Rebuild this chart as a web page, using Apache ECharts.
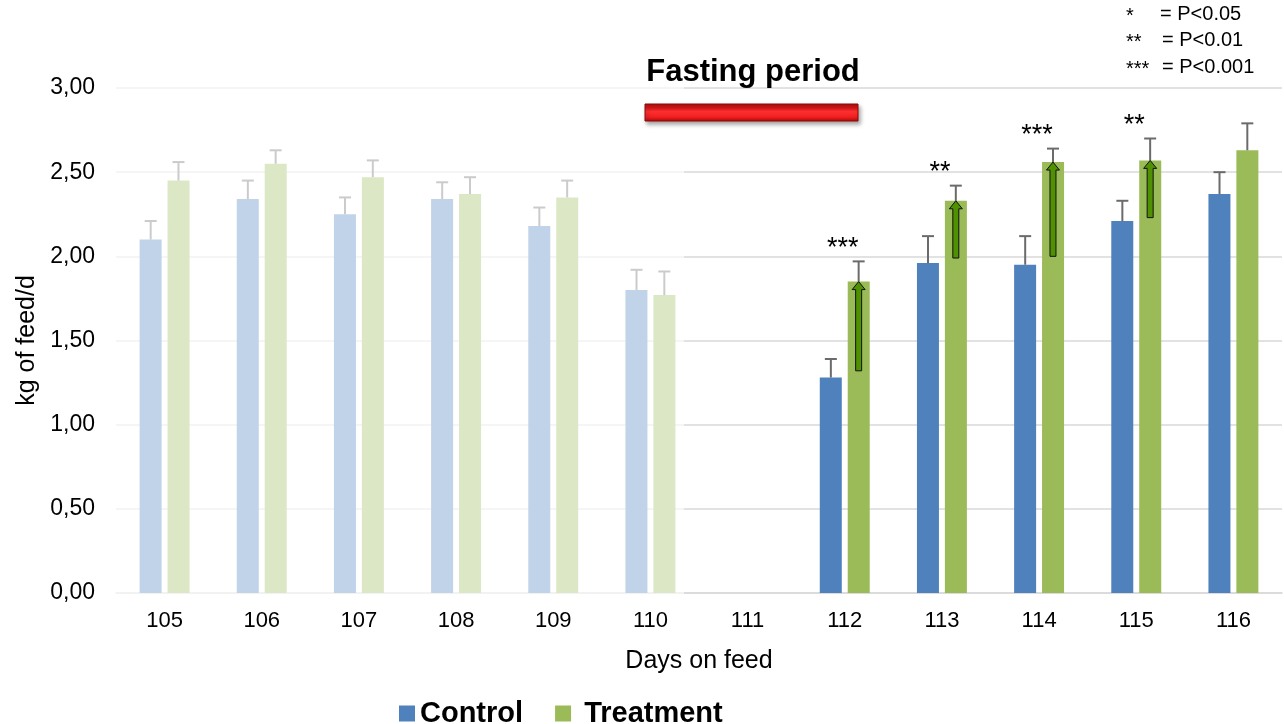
<!DOCTYPE html>
<html><head><meta charset="utf-8">
<script src="https://cdn.jsdelivr.net/npm/echarts@6/dist/echarts.min.js"></script>
<style>html,body{margin:0;padding:0;background:#fff}#c{width:1284px;height:724px}</style>
</head><body><div id="c"></div>
<script>
// ---- data ----
const days = ['105','106','107','108','109','110','111','112','113','114','115','116'];
const controlMean = [2.10, 2.34, 2.25, 2.34, 2.18, 1.80, null, 1.28, 1.96, 1.95, 2.21, 2.37];
const controlSD   = [0.11, 0.11, 0.10, 0.10, 0.11, 0.12, null, 0.11, 0.16, 0.17, 0.12, 0.13];
const treatMean   = [2.45, 2.55, 2.47, 2.37, 2.35, 1.77, null, 1.85, 2.33, 2.56, 2.57, 2.63];
const treatSD     = [0.11, 0.08, 0.10, 0.10, 0.10, 0.14, null, 0.12, 0.09, 0.08, 0.13, 0.16];
const arrowDays = ['112','113','114','115'];
const arrowFrom = [1.32, 1.99, 2.00, 2.23];
const sigDays  = ['112','113','114','115'];
const sigMarks = ['***','**','***','**'];
const pLegendStars = ['*','**','***'];
const pLegendText  = ['= P<0.05','= P<0.01','= P<0.001'];

const BAR_W = 22, OFF = 13.9;
const FONT = '"Liberation Sans", Arial, sans-serif';

function errData(mean, sd){
  const out = [];
  mean.forEach((m,i)=>{ if(m!=null) out.push([i, m, m+sd[i]]); });
  return out;
}
function errRender(offset){
  return function(params, api){
    const base = api.coord([api.value(0), api.value(1)]);
    const top = api.coord([api.value(0), api.value(2)]);
    const x = base[0] + offset;
    const style = {stroke:'#6b6b6b', lineWidth:2};
    return {type:'group', children:[
      {type:'line', shape:{x1:x,y1:base[1],x2:x,y2:top[1]}, style},
      {type:'line', shape:{x1:x-6,y1:top[1],x2:x+6,y2:top[1]}, style}
    ]};
  };
}
const arrowData = arrowDays.map((d,i)=>{
  const idx = days.indexOf(d);
  return [idx, arrowFrom[i], treatMean[idx]];
});
const sigData = sigDays.map((d,i)=>{
  const idx = days.indexOf(d);
  return [idx, treatMean[idx]+treatSD[idx], sigMarks[i]];
});

const chart = echarts.init(document.getElementById('c'), null, {renderer:'canvas'});
chart.setOption({
  animation:false,
  backgroundColor:'#fff',
  textStyle:{fontFamily:FONT},
  grid:{left:116, right:2, top:88, bottom:131, containLabel:false},
  legend:{
    left:394, top:694, itemWidth:16, itemHeight:16, itemGap:32, icon:'rect',
    data:['Control','Treatment'],
    textStyle:{fontFamily:FONT, fontWeight:'bold', fontSize:29, color:'#000'},
    formatter:function(n){ return n==='Treatment' ? ' '+n : n; }
  },
  xAxis:{
    type:'category', data:days,
    name:'Days on feed', nameLocation:'middle', nameGap:56,
    nameTextStyle:{fontFamily:FONT, fontSize:25, color:'#000'},
    axisTick:{show:false},
    axisLine:{lineStyle:{color:'#d9d9d9', width:1.5}},
    axisLabel:{fontFamily:FONT, fontSize:22, color:'#000', margin:17}
  },
  yAxis:{
    type:'value', min:0, max:3, interval:0.5,
    name:'kg of feed/d', nameLocation:'middle', nameGap:76,
    nameTextStyle:{fontFamily:FONT, fontSize:25, color:'#000'},
    axisLine:{show:false}, axisTick:{show:false},
    axisLabel:{fontFamily:FONT, fontSize:23, color:'#000', margin:21,
      formatter:v=>v.toFixed(2).replace('.',',')},
    splitLine:{lineStyle:{color:'#d9d9d9', width:1.5}}
  },
  series:[
    {name:'Control', type:'bar', data:controlMean, barWidth:BAR_W, barGap:'27%',
      itemStyle:{color:'#4f81bd'}, z:2},
    {name:'Treatment', type:'bar', data:treatMean, barWidth:BAR_W, barGap:'27%',
      itemStyle:{color:'#9bbb59'}, z:2},
    {type:'custom', data:errData(controlMean, controlSD), renderItem:errRender(-OFF), z:3, silent:true},
    {type:'custom', data:errData(treatMean, treatSD), renderItem:errRender(OFF), z:3, silent:true},
    {type:'custom', data:arrowData, z:4, silent:true,
      renderItem:function(params, api){
        const b = api.coord([api.value(0), api.value(1)]);
        const t = api.coord([api.value(0), api.value(2)]);
        const x = b[0] + OFF;
        const sw = 3, hw = 6.5, hh = 8;
        const pts = [[x-sw,b[1]],[x-sw,t[1]+hh],[x-hw,t[1]+hh],[x,t[1]],[x+hw,t[1]+hh],[x+sw,t[1]+hh],[x+sw,b[1]]];
        return {type:'polygon', shape:{points:pts}, style:{fill:'#4f9100', stroke:'#111', lineWidth:1}};
      }},
    {type:'custom', data:sigData, z:4, silent:true,
      renderItem:function(params, api){
        const p = api.coord([api.value(0), api.value(1)]);
        return {type:'text', x:p[0]-2, y:p[1]-13,
          style:{text:sigMarks[params.dataIndex], fontSize:27, fontFamily:FONT, fill:'#000', align:'center', verticalAlign:'middle'}};
      }}
  ],
  graphic:[
    {type:'rect', z:50, silent:true, shape:{x:110, y:78, width:574, height:518},
      style:{fill:'rgba(255,255,255,0.65)'}},
    {type:'text', z:60, x:753, y:72,
      style:{text:'Fasting period', fontFamily:FONT, fontWeight:'bold', fontSize:31, fill:'#000', align:'center', verticalAlign:'middle'}},
    {type:'rect', z:60, shape:{x:645, y:104, width:213, height:17},
      style:{
        fill:new echarts.graphic.LinearGradient(0,0,0,1,[
          {offset:0,color:'#a80c0c'},{offset:0.25,color:'#d81818'},{offset:0.45,color:'#ff3030'},
          {offset:0.75,color:'#f02020'},{offset:1,color:'#b00808'}]),
        stroke:'#8a0a0a', lineWidth:1,
        shadowBlur:4, shadowOffsetX:2, shadowOffsetY:3, shadowColor:'rgba(0,0,0,0.35)'}},
    ...pLegendStars.map((s,i)=>({type:'text', z:60, x:1126, y:16+i*26.5,
      style:{text:s, fontFamily:FONT, fontSize:20, fill:'#000', verticalAlign:'middle'}})),
    ...pLegendText.map((s,i)=>({type:'text', z:60, x:(i===0?1160:1162), y:14+i*26.5,
      style:{text:s, fontFamily:FONT, fontSize:20, fill:'#000', verticalAlign:'middle'}}))
  ]
});
</script></body></html>
